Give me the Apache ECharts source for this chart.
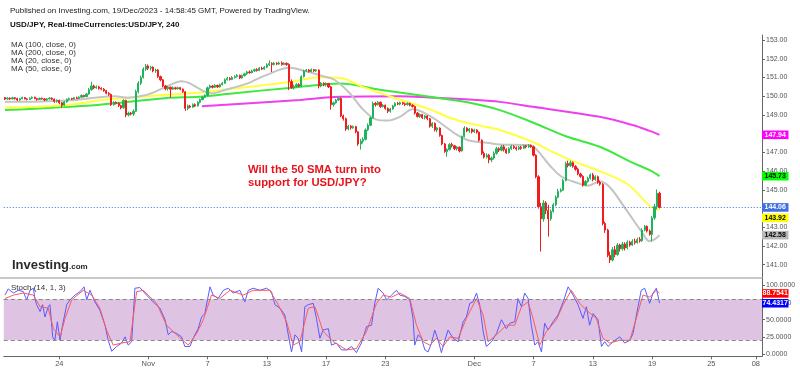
<!DOCTYPE html>
<html><head><meta charset="utf-8">
<script src="https://cdn.jsdelivr.net/npm/echarts@6/dist/echarts.min.js"></script>
<style>html,body{margin:0;padding:0;background:#fff}#c{width:800px;height:372px}</style>
</head><body><div id="c"></div>
<script>
const FONT = '"Liberation Sans", Arial, Helvetica, sans-serif';
const SLOTS = 307;
// 4h candles [open, close, low, high], Oct 18 08:00 .. Dec 19 12:00
const candles = [
// Oct 18
[149.93,149.85,149.80,149.96],[149.85,149.90,149.82,149.95],[149.90,149.86,149.80,149.94],[149.86,149.92,149.83,149.97],
// Oct 19
[149.92,149.88,149.82,149.95],[149.88,149.80,149.74,149.92],[149.80,149.87,149.76,149.91],[149.87,149.93,149.84,149.98],[149.93,149.86,149.83,149.96],[149.86,149.83,149.78,149.90],
// Oct 20
[149.83,149.90,149.80,149.94],[149.90,149.95,149.86,149.99],[149.95,149.87,149.84,149.98],[149.87,149.83,149.76,149.91],[149.83,149.89,149.80,149.93],[149.89,149.86,149.82,149.93],
// Oct 23
[149.86,149.80,149.74,149.90],[149.80,149.86,149.76,149.90],[149.86,149.90,149.82,149.96],[149.90,149.84,149.80,149.94],[149.84,149.72,149.65,149.88],[149.72,149.78,149.66,149.84],
// Oct 24
[149.78,149.65,149.58,149.82],[149.65,149.52,149.40,149.70],[149.52,149.70,149.48,149.76],[149.70,149.84,149.66,149.88],[149.84,149.88,149.78,149.93],[149.88,149.85,149.80,149.92],
// Oct 25
[149.85,149.92,149.82,149.96],[149.92,149.88,149.84,149.98],[149.88,149.95,149.85,150.00],[149.95,150.04,149.90,150.10],[150.04,149.98,149.94,150.08],[149.98,150.12,149.95,150.18],
// Oct 26
[150.12,150.35,150.08,150.45],[150.35,150.55,150.30,150.78],[150.55,150.45,150.38,150.62],[150.45,150.50,150.40,150.58],[150.50,150.42,150.35,150.56],[150.42,150.38,150.32,150.48],
// Oct 27
[150.38,150.30,150.24,150.44],[150.30,150.16,150.10,150.34],[150.16,150.10,150.02,150.22],[150.10,149.55,149.48,150.14],[149.55,149.68,149.50,149.74],[149.68,149.62,149.56,149.72],
// Oct 30
[149.62,149.50,149.42,149.68],[149.50,149.38,149.30,149.55],[149.38,149.78,149.34,149.84],[149.78,149.00,148.88,149.82],[149.00,149.10,148.92,149.18],[149.10,149.05,148.98,149.16],
// Oct 31
[149.05,149.20,148.95,149.30],[149.20,150.25,149.15,150.35],[150.25,150.70,150.15,150.80],[150.70,151.00,150.60,151.10],[151.00,151.45,150.95,151.55],[151.45,151.62,151.35,151.72],
// Nov 1
[151.62,151.50,151.40,151.70],[151.50,151.55,151.38,151.62],[151.55,151.35,151.28,151.60],[151.35,151.40,151.25,151.48],[151.40,151.05,150.98,151.45],[151.05,150.88,150.80,151.10],
// Nov 2
[150.88,150.55,150.48,150.92],[150.55,150.40,150.32,150.60],[150.40,150.48,150.30,150.55],[150.48,150.38,149.92,150.52],[150.38,150.45,150.34,150.52],[150.45,150.40,150.35,150.50],
// Nov 3
[150.40,150.46,150.36,150.52],[150.46,150.38,150.32,150.50],[150.38,150.24,150.18,150.42],[150.24,149.35,149.22,150.28],[149.35,149.48,149.25,149.56],[149.48,149.42,149.36,149.54],
// Nov 6
[149.42,149.55,149.38,149.62],[149.55,149.48,149.42,149.62],[149.48,149.68,149.45,149.74],[149.68,149.82,149.62,149.88],[149.82,149.95,149.78,150.02],[149.95,150.05,149.90,150.10],
// Nov 7
[150.05,150.45,150.00,150.52],[150.45,150.55,150.40,150.62],[150.55,150.48,150.42,150.60],[150.48,150.58,150.44,150.65],[150.58,150.50,150.45,150.62],[150.50,150.62,150.46,150.68],
// Nov 8
[150.62,150.70,150.58,150.76],[150.70,150.88,150.66,150.95],[150.88,150.96,150.84,151.04],[150.96,150.90,150.84,151.02],[150.90,151.00,150.86,151.08],[151.00,151.05,150.95,151.12],
// Nov 9
[151.05,151.12,151.00,151.18],[151.12,150.98,150.92,151.16],[150.98,151.10,150.94,151.16],[151.10,151.20,151.06,151.26],[151.20,151.30,151.15,151.36],[151.30,151.26,151.20,151.38],
// Nov 10
[151.26,151.35,151.22,151.42],[151.35,151.42,151.30,151.48],[151.42,151.38,151.32,151.50],[151.38,151.50,151.34,151.56],[151.50,151.45,151.40,151.58],[151.45,151.55,151.42,151.62],
// Nov 13
[151.55,151.68,151.50,151.76],[151.68,151.75,151.62,151.92],[151.75,151.70,151.30,151.82],[151.70,151.76,151.64,151.84],[151.76,151.72,151.66,151.82],[151.72,151.78,151.68,151.85],
// Nov 14
[151.78,151.70,151.64,151.86],[151.70,151.76,151.66,151.82],[151.76,151.70,151.62,151.80],[151.70,150.78,150.33,151.76],[150.78,150.45,150.40,150.90],[150.45,150.52,150.36,150.62],
// Nov 15
[150.52,150.62,150.46,150.70],[150.62,150.55,150.48,150.70],[150.55,151.05,150.50,151.12],[151.05,151.35,151.00,151.42],[151.35,151.40,151.30,151.46],[151.40,151.32,151.26,151.45],
// Nov 16
[151.32,151.42,151.28,151.48],[151.42,151.36,151.30,151.46],[151.36,151.40,151.30,151.46],[151.40,150.55,150.42,151.44],[150.55,150.70,150.48,150.76],[150.70,150.62,150.54,150.74],
// Nov 17
[150.62,150.68,150.52,150.74],[150.68,150.50,150.44,150.72],[150.50,149.55,149.28,150.55],[149.55,149.65,149.45,149.72],[149.65,149.80,149.60,149.86],[149.80,149.88,149.74,149.95],
// Nov 20
[149.88,148.95,148.88,149.95],[148.95,148.80,148.70,149.02],[148.80,148.25,148.15,148.86],[148.25,148.40,148.18,148.48],[148.40,148.32,148.22,148.46],[148.32,148.38,148.26,148.44],
// Nov 21
[148.38,148.10,148.02,148.42],[148.10,147.45,147.35,148.14],[147.45,147.60,147.15,147.72],[147.60,147.70,147.48,147.80],[147.70,148.20,147.64,148.28],[148.20,148.45,148.14,148.55],
// Nov 22
[148.45,148.85,148.40,148.92],[148.85,149.62,148.80,149.72],[149.62,149.55,149.45,149.70],[149.55,149.68,149.50,149.74],[149.68,149.45,149.38,149.72],[149.45,149.52,149.40,149.58],
// Nov 23
[149.52,149.35,149.28,149.56],[149.35,149.20,149.10,149.40],[149.20,149.32,149.12,149.38],[149.32,149.48,149.28,149.54],[149.48,149.62,149.44,149.68],[149.62,149.58,149.52,149.70],
// Nov 24
[149.58,149.66,149.52,149.72],[149.66,149.60,149.54,149.70],[149.60,149.55,149.48,149.66],[149.55,149.62,149.50,149.68],[149.62,149.52,149.46,149.66],[149.52,149.45,149.40,149.58],
// Nov 27
[149.45,149.10,149.02,149.50],[149.10,148.92,148.86,149.16],[148.92,149.02,148.84,149.08],[149.02,148.85,148.78,149.06],[148.85,148.95,148.76,149.00],[148.95,148.80,148.72,148.98],
// Nov 28
[148.80,148.40,148.32,148.84],[148.40,148.55,148.30,148.62],[148.55,148.20,148.12,148.60],[148.20,148.30,148.08,148.36],[148.30,147.90,147.84,148.34],[147.90,147.45,147.38,147.95],
// Nov 29
[147.45,147.05,146.98,147.50],[147.05,147.15,146.77,147.22],[147.15,147.42,147.10,147.50],[147.42,147.35,147.26,147.52],[147.35,147.20,147.12,147.40],[147.20,147.28,147.10,147.34],
// Nov 30
[147.28,147.08,147.00,147.32],[147.08,147.85,147.04,147.90],[147.85,148.30,147.80,148.40],[148.30,148.15,148.08,148.35],[148.15,148.25,148.05,148.30],[148.25,148.10,148.02,148.28],
// Dec 1
[148.10,148.20,148.04,148.26],[148.20,148.08,148.00,148.24],[148.08,147.65,147.58,148.12],[147.65,146.95,146.86,147.70],[146.95,146.75,146.67,147.05],[146.75,146.85,146.68,146.95],
// Dec 4
[146.85,146.60,146.42,146.92],[146.60,146.70,146.48,146.78],[146.70,146.95,146.62,147.05],[146.95,147.20,146.88,147.30],[147.20,147.12,147.02,147.28],[147.12,147.30,147.06,147.40],
// Dec 5
[147.30,147.15,147.05,147.40],[147.15,146.98,146.92,147.22],[146.98,147.20,146.94,147.28],[147.20,147.32,147.14,147.40],[147.32,147.25,147.18,147.38],[147.25,147.18,147.10,147.32],
// Dec 6
[147.18,147.28,147.12,147.34],[147.28,147.22,147.14,147.35],[147.22,147.35,147.18,147.42],[147.35,147.30,147.22,147.40],[147.30,147.38,147.24,147.44],[147.38,147.30,147.24,147.42],
// Dec 7
[147.30,146.85,146.78,147.36],[146.85,145.70,145.62,146.90],[145.70,144.10,144.00,145.78],[144.10,143.45,141.70,144.30],[143.45,144.30,143.30,144.45],[144.30,143.90,143.70,144.40],
// Dec 8
[143.90,143.45,142.50,144.20],[143.45,143.85,143.35,143.95],[143.85,144.20,143.78,144.30],[144.20,144.60,144.12,144.70],[144.60,144.92,144.55,145.05],[144.92,144.98,144.86,145.08],
// Dec 11
[144.98,145.50,144.94,145.58],[145.50,146.40,145.45,146.50],[146.40,146.30,146.20,146.56],[146.30,146.45,146.22,146.56],[146.45,146.25,146.18,146.52],[146.25,146.10,146.02,146.32],
// Dec 12
[146.10,145.85,145.78,146.18],[145.85,145.72,145.64,145.92],[145.72,145.25,145.17,145.78],[145.25,145.45,145.20,145.52],[145.45,145.62,145.38,145.70],[145.62,145.80,145.55,145.88],
// Dec 13
[145.80,145.55,145.45,145.90],[145.55,145.70,145.48,145.78],[145.70,145.40,145.32,145.76],[145.40,145.30,145.22,145.50],[145.30,143.20,143.10,145.36],[143.20,142.85,142.70,143.30],
// Dec 14
[142.85,141.50,141.40,142.92],[141.50,141.25,141.09,141.70],[141.25,141.80,141.18,141.95],[141.80,141.55,141.40,142.00],[141.55,142.05,141.48,142.16],[142.05,141.85,141.70,142.12],
// Dec 15
[141.85,142.10,141.75,142.22],[142.10,141.90,141.76,142.20],[141.90,142.20,141.82,142.30],[142.20,142.05,141.96,142.28],[142.05,142.25,142.00,142.36],[142.25,142.18,142.08,142.40],
// Dec 18
[142.18,142.35,142.12,142.45],[142.35,142.28,142.18,142.48],[142.28,142.85,142.22,142.95],[142.85,143.05,142.78,143.12],[143.05,142.80,142.72,143.10],[142.80,142.62,142.55,142.88],
// Dec 19
[142.62,143.50,142.25,143.60],[143.50,144.10,143.40,144.25],[144.10,144.82,143.95,145.02],[144.82,144.06,144.00,144.90]
];
// moving averages: [bar position, value]
const ma20 = [[0,149.70],[14.2,149.72],[26.3,149.78],[36.4,149.92],[44.5,150.0],[49.8,149.92],[56.7,150.05],[63.9,150.42],[71.6,150.80],[83.8,150.15],[89,150.33],[98.3,150.69],[105.2,151.10],[115.3,151.52],[121.4,151.35],[129.5,151.04],[133.5,150.87],[139.6,150.16],[144.9,149.3],[150.5,148.75],[155,148.7],[159.9,148.9],[165.1,149.3],[172,148.95],[178.1,148.4],[182.9,147.95],[188.2,147.62],[195.1,147.52],[200.3,147.42],[211.3,147.39],[214.5,147.25],[220.6,146.3],[225.4,145.7],[231.5,145.38],[235.9,145.22],[240.8,145.45],[244.8,145.15],[251.7,143.9],[257.8,142.75],[261,142.25],[263.5,142.40],[265,142.58]];
const ma50 = [[0,149.40],[22.3,149.50],[42.5,149.85],[62.7,150.05],[78.9,150.20],[91.9,150.40],[105.2,150.60],[116.1,150.78],[127.5,151.02],[135.6,150.98],[138.4,150.90],[144.9,150.50],[157,149.95],[172,149.30],[180.1,148.85],[185.3,148.64],[193.4,148.40],[199.1,148.25],[213.3,147.58],[220.6,147.10],[228.7,146.60],[238.8,146.10],[252.1,145.30],[261,144.15],[265,143.92]];
const ma100 = [[0,149.26],[38.4,149.55],[64.8,149.90],[78.9,149.98],[91.9,150.15],[119.4,150.50],[135.6,150.68],[151.8,150.35],[172,149.97],[188.2,149.65],[200.3,149.26],[213.7,148.60],[227.4,147.85],[240.8,147.30],[254.1,146.45],[261,146.05],[265,145.73]];
const ma200 = [[79.7,149.47],[119.4,149.80],[135.6,149.97],[159.9,150.00],[172,149.93],[191,149.80],[200.3,149.70],[213.7,149.44],[240.8,148.90],[254.1,148.46],[261,148.15],[265,147.94]];
// stochastic %K (blue) and %D (red): [bar position, value]
const stochK = [[0,86],[1.3,95],[3.4,89],[5.4,93],[7.4,91],[8.8,79],[10.1,93],[11.5,96],[12.1,81],[12.8,72],[14.2,62],[15.2,72],[16.2,54],[17.5,69],[18.2,72],[19.3,25],[20.2,20],[21.2,47],[22.3,20],[23.3,42],[25,72],[26.3,79],[28.3,86],[30.4,91],[32,98],[33.1,79],[34.4,93],[36.4,76],[38.4,64],[40.5,42],[41.8,20],[43.2,4],[45.2,11],[47.2,16],[48.6,25],[49.9,13],[51.3,18],[52.6,96],[54.6,97],[57.3,86],[60,76],[62.7,67],[64.8,50],[66.1,28],[67.5,33],[69.5,30],[71.5,25],[72.8,11],[74.9,11],[76.2,23],[78.2,37],[79.6,54],[80.9,59],[83,98],[84.3,86],[86.3,81],[88.4,93],[90.4,96],[92.4,89],[95.1,93],[97.1,76],[98.5,93],[100.5,96],[103.2,93],[105.9,96],[107.9,91],[109.3,72],[111.3,67],[113.3,57],[114.7,28],[116,3],[117.4,28],[118.7,23],[120.1,3],[121.4,69],[122.8,72],[124.8,74],[126.1,52],[127.5,23],[128.8,35],[130.9,37],[132.2,13],[134.2,16],[136.2,6],[138.3,6],[140.3,11],[142.3,2],[144.3,16],[146.4,40],[148.4,42],[149.7,74],[151.1,96],[153.1,89],[154.5,79],[156.5,86],[158.5,93],[159.9,86],[161.9,84],[163.9,79],[165.2,52],[165.9,13],[167.3,28],[168.6,23],[170,6],[171.3,3],[172.7,16],[174,35],[175.4,20],[176.7,2],[178.1,20],[179.4,35],[181.4,23],[183.5,18],[185.5,47],[186.8,54],[188.2,74],[189.5,76],[190.9,89],[192.2,72],[193.6,33],[194.9,11],[197,18],[199,30],[201,50],[203,37],[204.4,45],[206.4,47],[207.7,81],[209.1,69],[210.4,89],[211.8,81],[213.1,42],[214.5,13],[215.8,18],[217.2,3],[218.5,45],[219.9,35],[221.9,47],[223.9,57],[226,76],[228,98],[230,86],[232,72],[234,52],[235.4,69],[236.7,42],[238.1,59],[240.1,50],[241.5,11],[242.8,18],[244.2,11],[246.2,18],[248.9,25],[250.9,16],[253,20],[254.3,30],[256.3,69],[257.6,93],[259,96],[261,74],[262.4,89],[263.7,96],[265,74.4317]];
const stochD = [[0,81],[3.4,86],[7.4,89],[11.5,86],[14.2,69],[17.5,67],[19.6,37],[22.3,25],[24.3,52],[27,79],[31.7,93],[35.1,86],[38.4,67],[41.1,35],[43.8,13],[47.2,16],[50.6,18],[53.3,91],[56,93],[61.4,74],[65.4,42],[69.5,28],[74.2,13],[77.6,30],[80.3,50],[83.6,86],[87,81],[91.1,93],[96.5,86],[100.5,93],[107.2,93],[110.6,72],[114,47],[116.7,13],[119.4,18],[122.8,67],[125.5,69],[128.8,33],[132.9,18],[138.3,6],[142.3,8],[146.4,33],[150.4,74],[153.1,86],[156.5,83],[159.9,89],[163.9,81],[166.6,42],[169.3,18],[172,13],[174.7,23],[177.4,11],[180.1,25],[183.5,23],[186.8,52],[190.9,81],[193.6,57],[195.6,18],[199,28],[203,42],[206.4,42],[209.1,69],[211.8,76],[213.8,52],[216.5,13],[219.2,33],[223.3,50],[226,72],[229.3,93],[232.7,74],[235.4,64],[239.4,52],[242.1,23],[244.8,16],[248.9,20],[253,20],[255.6,52],[258.3,86],[261,83],[263.7,93],[265,88.7541]];
const dayTicks = [[22,'24'],[58,'Nov'],[82,'7'],[106,'13'],[130,'17'],[154,'23'],[190,'Dec'],[214,'7'],[238,'13'],[262,'19'],[286,'25'],[304,'08']];
const priceTicks = [141,142,143,144,145,146,147,148,149,150,151,152,153];
const stochTicks = [0,25,50,75,100];
const lastPrice = 144.06;
const priceTags = [
  {v:147.94, text:'147.94', bg:'#ff00ff', fg:'#ffffff', dy:0},
  {v:145.73, text:'145.73', bg:'#00ff00', fg:'#000000', dy:0},
  {v:144.06, text:'144.06', bg:'#3f6fe0', fg:'#ffffff', dy:0},
  {v:143.92, text:'143.92', bg:'#ffff00', fg:'#000000', dy:7.8},
  {v:142.58, text:'142.58', bg:'#b8b8b8', fg:'#000000', dy:0}
];
const stochTags = [
  {v:88.7541, text:'88.7541', bg:'#ff0000', fg:'#ffffff'},
  {v:74.4317, text:'74.4317', bg:'#0000ff', fg:'#ffffff'}
];
const legendLines = ['MA (100, close, 0)','MA (200, close, 0)','MA (20, close, 0)','MA (50, close, 0)'];

const categories = Array.from({length: SLOTS}, (_, i) => String(i));
const tickMap = {}; dayTicks.forEach(([i, t]) => tickMap[i] = t);

const GL = 3.76, GR = 38;
const chart = echarts.init(document.getElementById('c'), null, {renderer: 'canvas'});
const axisGray = '#666';
function maSeries(data, color, width) {
  return {type:'line', xAxisIndex:1, yAxisIndex:0, data, showSymbol:false, smooth:0.35,
    lineStyle:{color, width}, silent:true, z:3};
}
chart.setOption({
  animation:false,
  backgroundColor:'#ffffff',
  textStyle:{fontFamily:FONT},
  grid:[
    {left:GL, right:GR, top:35, height:242},
    {left:GL, right:GR, top:278, height:78.3}
  ],
  xAxis:[
    {type:'category', gridIndex:0, data:categories, boundaryGap:true, show:false},
    {type:'value', gridIndex:0, min:-0.5, max:SLOTS-0.5, show:false},
    {type:'category', gridIndex:1, data:categories, boundaryGap:true,
      axisLine:{show:true, onZero:false, lineStyle:{color:axisGray, width:1}},
      axisTick:{show:true, alignWithLabel:true, length:3, interval:(i)=>tickMap[i]!==undefined, lineStyle:{color:axisGray}},
      axisLabel:{show:true, interval:(i)=>tickMap[i]!==undefined, formatter:(v,i)=>tickMap[i]||'', fontSize:7.5, color:'#555', margin:4, fontFamily:FONT},
      splitLine:{show:false}},
    {type:'value', gridIndex:1, min:-0.5, max:SLOTS-0.5, show:false}
  ],
  yAxis:[
    {type:'value', gridIndex:0, position:'right', min:140.343, max:153.273, scale:true,
      axisLine:{show:true, onZero:false, lineStyle:{color:axisGray}},
      axisTick:{show:true, length:3, customValues:priceTicks, lineStyle:{color:axisGray}},
      axisLabel:{show:true, customValues:priceTicks, formatter:(v)=>Number(v).toFixed(2), fontSize:7, color:'#555', margin:4, fontFamily:FONT},
      splitLine:{show:false}},
    {type:'value', gridIndex:1, position:'right', min:-3.36, max:110.95,
      axisLine:{show:true, onZero:false, lineStyle:{color:axisGray}},
      axisTick:{show:true, length:3, customValues:stochTicks, lineStyle:{color:axisGray}},
      axisLabel:{show:true, customValues:stochTicks, formatter:(v)=>Number(v).toFixed(4), fontSize:7, color:'#555', margin:4, fontFamily:FONT},
      splitLine:{show:false}}
  ],
  series:[
    maSeries(ma200, '#ee40ee', 2),
    maSeries(ma100, '#3ee83e', 2),
    maSeries(ma50, '#ffff40', 2),
    maSeries(ma20, '#c4c4c4', 2),
    {type:'candlestick', xAxisIndex:0, yAxisIndex:0, data:candles, barWidth:1.7, z:4,
      itemStyle:{color:'#1fb45c', color0:'#f21c1c', borderColor:'#1fb45c', borderColor0:'#f21c1c', borderWidth:1},
      markLine:{symbol:'none', silent:true, label:{show:false},
        lineStyle:{color:'#3f6fe0', type:[1,2], width:1}, data:[{yAxis:lastPrice}]}},
    {type:'line', xAxisIndex:3, yAxisIndex:1, data:stochK, showSymbol:false, lineStyle:{color:'#5a5aff', width:1}, z:3,
      markArea:{silent:true, itemStyle:{color:'#dec3e3'}, data:[[{yAxis:20},{yAxis:80}]]},
      markLine:{symbol:'none', silent:true, label:{show:false}, lineStyle:{color:'#888', type:[4,3], width:1},
        data:[{yAxis:20},{yAxis:80}]}},
    {type:'line', xAxisIndex:3, yAxisIndex:1, data:stochD, showSymbol:false, lineStyle:{color:'#ff5a5a', width:1}, z:4}
  ]
});

const gfx = [];
// separator between panes
gfx.push({type:'line', shape:{x1:0, y1:278, x2:762, y2:278}, style:{stroke:'#c8c8c8', lineWidth:2}, z:20});
// titles
gfx.push({type:'text', x:10, y:11, style:{text:'Published on Investing.com, 19/Dec/2023 - 14:58:45 GMT, Powered by TradingView.', font:'8px '+FONT, fill:'#222', textVerticalAlign:'middle'}, z:30});
gfx.push({type:'text', x:10, y:25, style:{text:'USD/JPY, Real-timeCurrencies:USD/JPY, 240', font:'bold 8px '+FONT, fill:'#111', textVerticalAlign:'middle'}, z:30});
legendLines.forEach((t, k) => gfx.push({type:'text', x:11, y:44.7 + k*8.1, style:{text:t, font:'8px '+FONT, fill:'#333', textVerticalAlign:'middle'}, z:30}));
gfx.push({type:'text', x:11, y:288, style:{text:'Stoch (14, 1, 3)', font:'8px '+FONT, fill:'#333', textVerticalAlign:'middle'}, z:30});
// annotation
gfx.push({type:'text', x:248, y:170, style:{text:'Will the 50 SMA turn into', font:'bold 11.3px '+FONT, fill:'#e8141c', textVerticalAlign:'middle'}, z:30});
gfx.push({type:'text', x:248, y:183, style:{text:'support for USD/JPY?', font:'bold 11.3px '+FONT, fill:'#e8141c', textVerticalAlign:'middle'}, z:30});
// watermark logo
gfx.push({type:'text', x:12, y:265, style:{text:'Investing', font:'bold 13px '+FONT, fill:'#2a2a2a', textVerticalAlign:'middle'}, z:30});
gfx.push({type:'text', x:69, y:267, style:{text:'.com', font:'bold 8px '+FONT, fill:'#2a2a2a', textVerticalAlign:'middle'}, z:30});
// last value tags
priceTags.forEach(t => {
  const y = chart.convertToPixel({yAxisIndex:0}, t.v) + t.dy;
  gfx.push({type:'rect', shape:{x:762, y:y-4.3, width:26.5, height:8.6}, style:{fill:t.bg}, z:40});
  gfx.push({type:'text', x:775.2, y:y, style:{text:t.text, font:'bold 7px '+FONT, fill:t.fg, align:'center', verticalAlign:'middle'}, z:41});
});
stochTags.forEach(t => {
  const y = chart.convertToPixel({yAxisIndex:1}, t.v);
  gfx.push({type:'rect', shape:{x:762, y:y-4, width:26.5, height:8.5}, style:{fill:t.bg}, z:40});
  gfx.push({type:'text', x:775.2, y:y, style:{text:t.text, font:'bold 7px '+FONT, fill:t.fg, align:'center', verticalAlign:'middle'}, z:41});
});
chart.setOption({graphic:gfx});
</script></body></html>
